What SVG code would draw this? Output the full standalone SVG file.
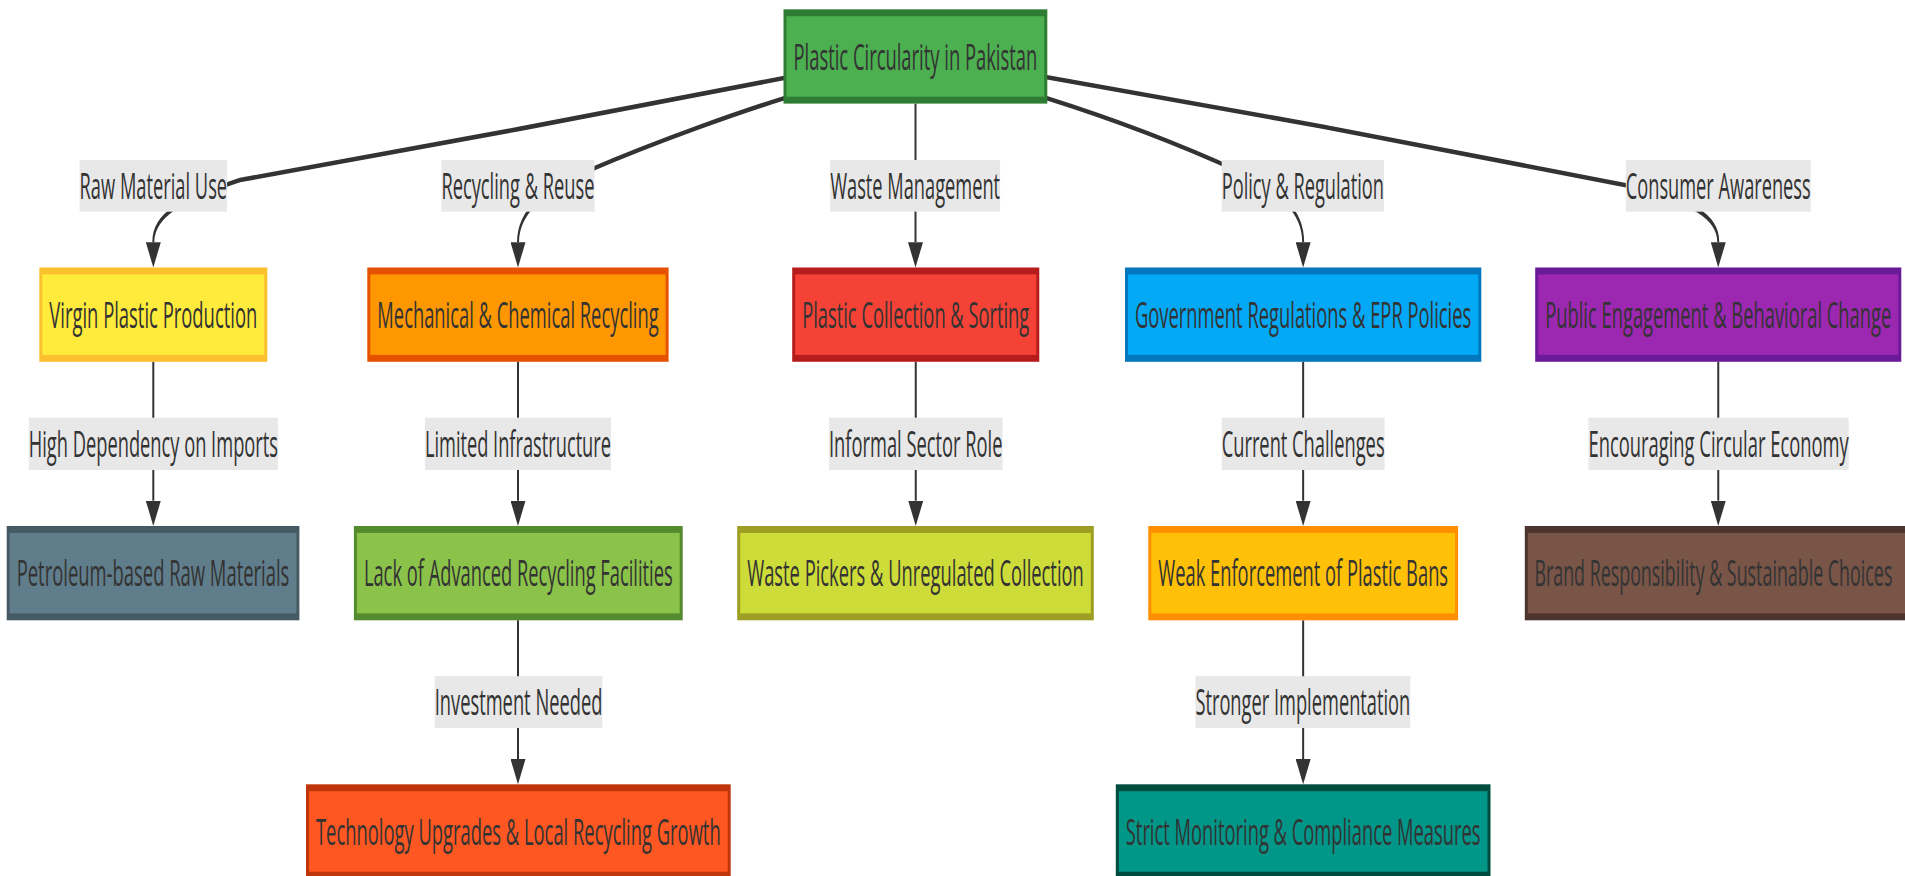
<svg xmlns="http://www.w3.org/2000/svg" width="1905" height="876" viewBox="0 0 1905 876">
<defs>
<style>
.n rect{stroke-width:3}
.t{font-family:"Open Sans","Liberation Sans",sans-serif;font-size:16px;fill:#333;text-anchor:middle}
.e{fill:none;stroke:#333;stroke-width:2}
.lb{fill:#e8e8e8}
</style>
<marker id="ah" markerUnits="userSpaceOnUse" viewBox="0 0 11 15" markerWidth="11" markerHeight="15" refX="0" refY="7.5" orient="auto"><path d="M0,0 L11,7.5 L0,15 z" fill="#333"/></marker>
</defs>
<rect width="1905" height="876" fill="#fff"/>
<g transform="scale(1,2.3)">
<g id="connectors">
<path class="e" marker-end="url(#ah)" d="M784,33.91 C620,48.70 400,65.22 240,78.26 C180,86.96 153.3,93.48 153.3,105.3"/>
<path class="e" marker-end="url(#ah)" d="M784,42.74 C740,48.70 660,60.87 590,73.91 C545,82.61 518,91.30 518,105.3"/>
<path class="e" marker-end="url(#ah)" d="M915.5,45.05 L915.5,105.3"/>
<path class="e" marker-end="url(#ah)" d="M1047,42.74 C1100,50.0 1170,60.87 1240,74.78 C1280,83.48 1303.15,91.30 1303.15,105.3"/>
<path class="e" marker-end="url(#ah)" d="M1047,33.61 C1240,47.83 1450,65.22 1640,81.74 C1690,88.26 1718.25,93.48 1718.25,105.3"/>
<path class="e" marker-end="url(#ah)" d="M153.3,157.3 L153.3,217.7"/>
<path class="e" marker-end="url(#ah)" d="M518,157.3 L518,217.7"/>
<path class="e" marker-end="url(#ah)" d="M915.75,157.3 L915.75,217.7"/>
<path class="e" marker-end="url(#ah)" d="M1303.15,157.3 L1303.15,217.7"/>
<path class="e" marker-end="url(#ah)" d="M1718.25,157.3 L1718.25,217.7"/>
<path class="e" marker-end="url(#ah)" d="M518,269.7 L518,330"/>
<path class="e" marker-end="url(#ah)" d="M1303.15,269.7 L1303.15,330"/>
<g id="edge-labels">
<rect class="lb" x="79.6" y="69.57" width="147.5" height="22.47"/><text class="t" x="153.35" y="86.5" textLength="147.5" lengthAdjust="spacingAndGlyphs">Raw Material Use</text>
<rect class="lb" x="441.4" y="69.57" width="153.1" height="22.47"/><text class="t" x="517.95" y="86.5" textLength="153.1" lengthAdjust="spacingAndGlyphs">Recycling &amp; Reuse</text>
<rect class="lb" x="830.2" y="69.57" width="169.9" height="22.47"/><text class="t" x="915.15" y="86.5" textLength="169.9" lengthAdjust="spacingAndGlyphs">Waste Management</text>
<rect class="lb" x="1221.7" y="69.57" width="162.3" height="22.47"/><text class="t" x="1302.85" y="86.5" textLength="162.3" lengthAdjust="spacingAndGlyphs">Policy &amp; Regulation</text>
<rect class="lb" x="1625.8" y="69.57" width="184.9" height="22.47"/><text class="t" x="1718.25" y="86.5" textLength="184.9" lengthAdjust="spacingAndGlyphs">Consumer Awareness</text>
<rect class="lb" x="28.8" y="181.6" width="249.2" height="22.75"/><text class="t" x="153.4" y="198.7" textLength="249.2" lengthAdjust="spacingAndGlyphs">High Dependency on Imports</text>
<rect class="lb" x="424.9" y="181.6" width="186.1" height="22.75"/><text class="t" x="517.95" y="198.7" textLength="186.1" lengthAdjust="spacingAndGlyphs">Limited Infrastructure</text>
<rect class="lb" x="829" y="181.6" width="173.5" height="22.75"/><text class="t" x="915.75" y="198.7" textLength="173.5" lengthAdjust="spacingAndGlyphs">Informal Sector Role</text>
<rect class="lb" x="1221.7" y="181.6" width="162.9" height="22.75"/><text class="t" x="1303.15" y="198.7" textLength="162.9" lengthAdjust="spacingAndGlyphs">Current Challenges</text>
<rect class="lb" x="1588.5" y="181.6" width="260.2" height="22.75"/><text class="t" x="1718.6" y="198.7" textLength="260.2" lengthAdjust="spacingAndGlyphs">Encouraging Circular Economy</text>
<rect class="lb" x="434.7" y="294" width="167.7" height="22.5"/><text class="t" x="518.55" y="311" textLength="167.7" lengthAdjust="spacingAndGlyphs">Investment Needed</text>
<rect class="lb" x="1195.4" y="294" width="214.9" height="22.5"/><text class="t" x="1302.85" y="311" textLength="214.9" lengthAdjust="spacingAndGlyphs">Stronger Implementation</text>
</g>
</g>
<g id="root" class="n"><rect x="785" y="5.55" width="260.8" height="38" fill="#4CAF50" stroke="#2E7D32"/><text class="t" x="915.4" y="30.25" textLength="243.8" lengthAdjust="spacingAndGlyphs">Plastic Circularity in Pakistan</text></g>
<g id="virgin" class="n"><rect x="40.8" y="117.8" width="225" height="38" fill="#FFEB3B" stroke="#FBC02D"/><text class="t" x="153.3" y="142.5" textLength="208" lengthAdjust="spacingAndGlyphs">Virgin Plastic Production</text></g>
<g id="mechanical" class="n"><rect x="368.8" y="117.8" width="298.3" height="38" fill="#FF9800" stroke="#E65100"/><text class="t" x="518" y="142.5" textLength="281.3" lengthAdjust="spacingAndGlyphs">Mechanical &amp; Chemical Recycling</text></g>
<g id="collection" class="n"><rect x="793.7" y="117.8" width="244.1" height="38" fill="#F44336" stroke="#B71C1C"/><text class="t" x="915.75" y="142.5" textLength="227.1" lengthAdjust="spacingAndGlyphs">Plastic Collection &amp; Sorting</text></g>
<g id="government" class="n"><rect x="1126.5" y="117.8" width="353.3" height="38" fill="#03A9F4" stroke="#0277BD"/><text class="t" x="1303.15" y="142.5" textLength="336.3" lengthAdjust="spacingAndGlyphs">Government Regulations &amp; EPR Policies</text></g>
<g id="public" class="n"><rect x="1536.7" y="117.8" width="363.1" height="38" fill="#9C27B0" stroke="#6A1B9A"/><text class="t" x="1718.25" y="142.5" textLength="346.1" lengthAdjust="spacingAndGlyphs">Public Engagement &amp; Behavioral Change</text></g>
<g id="petroleum" class="n"><rect x="8.2" y="230.2" width="289.7" height="38" fill="#607D8B" stroke="#455A64"/><text class="t" x="153.05" y="254.9" textLength="272.7" lengthAdjust="spacingAndGlyphs">Petroleum-based Raw Materials</text></g>
<g id="lack" class="n"><rect x="355.4" y="230.2" width="325.8" height="38" fill="#8BC34A" stroke="#558B2F"/><text class="t" x="518.3" y="254.9" textLength="308.8" lengthAdjust="spacingAndGlyphs">Lack of Advanced Recycling Facilities</text></g>
<g id="pickers" class="n"><rect x="738.7" y="230.2" width="353.6" height="38" fill="#CDDC39" stroke="#9E9D24"/><text class="t" x="915.5" y="254.9" textLength="336.6" lengthAdjust="spacingAndGlyphs">Waste Pickers &amp; Unregulated Collection</text></g>
<g id="weak" class="n"><rect x="1149.8" y="230.2" width="306.8" height="38" fill="#FFC107" stroke="#FF8F00"/><text class="t" x="1303.2" y="254.9" textLength="289.8" lengthAdjust="spacingAndGlyphs">Weak Enforcement of Plastic Bans</text></g>
<g id="brand" class="n"><rect x="1526.3" y="230.2" width="383.8" height="38" fill="#795548" stroke="#4E342E"/><text class="t" x="1713.4" y="254.9" textLength="358" lengthAdjust="spacingAndGlyphs">Brand Responsibility &amp; Sustainable Choices</text></g>
<g id="technology" class="n"><rect x="307.5" y="342.5" width="421.7" height="38" fill="#FF5722" stroke="#BF360C"/><text class="t" x="518.35" y="367.2" textLength="404.7" lengthAdjust="spacingAndGlyphs">Technology Upgrades &amp; Local Recycling Growth</text></g>
<g id="strict" class="n"><rect x="1117.3" y="342.5" width="371.7" height="38" fill="#009688" stroke="#004D40"/><text class="t" x="1303.15" y="367.2" textLength="354.7" lengthAdjust="spacingAndGlyphs">Strict Monitoring &amp; Compliance Measures</text></g>
</g>
</svg>
